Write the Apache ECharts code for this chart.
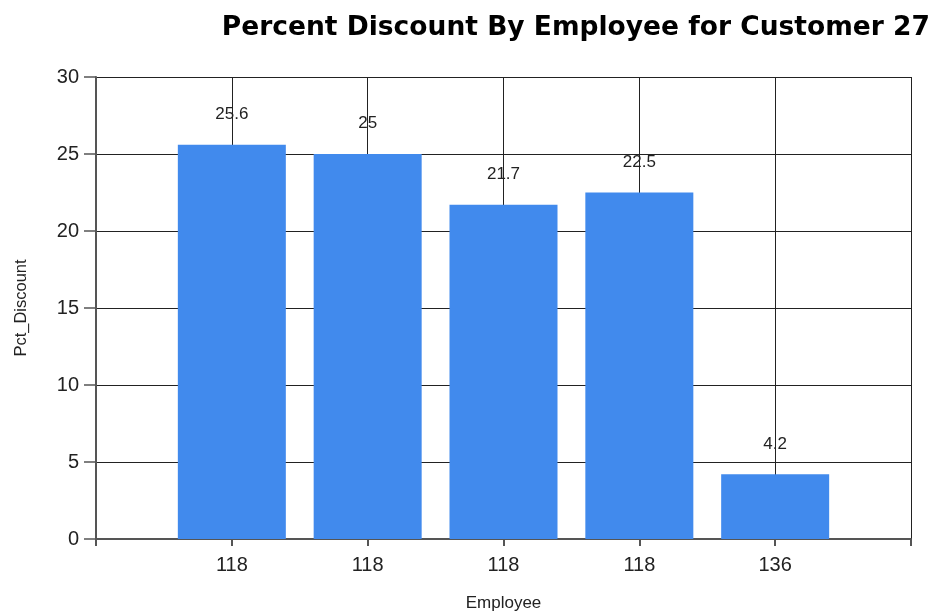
<!DOCTYPE html>
<html><head><meta charset="utf-8">
<script src="https://cdn.jsdelivr.net/npm/echarts@6/dist/echarts.min.js"></script>
<style>html,body{margin:0;padding:0;background:#fff}#c{width:935px;height:611px}</style>
</head><body><div id="c"></div>
<script>
const titleText = 'Percent Discount By Employee for Customer 27';
const employees = ['118', '118', '118', '118', '136'];
const pctDiscount = [25.6, 25, 21.7, 22.5, 4.2];
const yTicks = [0, 5, 10, 15, 20, 25, 30];

const chart = echarts.init(document.getElementById('c'));
chart.setOption({
  backgroundColor: '#fff',
  animation: false,
  title: {
    text: titleText, right: 0, top: 10,
    textStyle: { fontFamily: 'DejaVu Sans', fontWeight: 'bold', fontSize: 26.5, color: '#000' }
  },
  grid: { left: 96, right: 24, top: 77, bottom: 72, outerBoundsMode: 'none', containLabel: false },
  xAxis: {
    type: 'value', min: 0, max: employees.length + 1, interval: 1,
    name: 'Employee', nameLocation: 'middle', nameGap: 56,
    nameTextStyle: { fontFamily: 'Liberation Sans', fontSize: 17, color: '#222' },
    axisLine: { show: true, lineStyle: { color: '#555', width: 2 } },
    axisTick: { show: true, length: 7, lineStyle: { color: '#555', width: 2 } },
    axisLabel: {
      margin: 16, fontFamily: 'Liberation Sans', fontSize: 20, color: '#222',
      formatter: v => (v >= 1 && v <= employees.length) ? employees[v - 1] : ''
    },
    splitLine: { show: true, lineStyle: { color: '#222', width: 1 } }
  },
  yAxis: {
    type: 'value', min: yTicks[0], max: yTicks[yTicks.length - 1], interval: 5,
    name: 'Pct_Discount', nameLocation: 'middle', nameGap: 66,
    nameTextStyle: { fontFamily: 'Liberation Sans', fontSize: 16.5, color: '#222' },
    axisLine: { show: true, lineStyle: { color: '#555', width: 2 } },
    axisTick: { show: true, length: 12, lineStyle: { color: '#555', width: 1.5 } },
    axisLabel: { margin: 17, fontFamily: 'Liberation Sans', fontSize: 20, color: '#222' },
    splitLine: { show: true, lineStyle: { color: '#222', width: 1 } }
  },
  series: [{
    type: 'bar',
    data: pctDiscount.map((v, i) => [i + 1, v]),
    barWidth: 108,
    itemStyle: { color: '#418aed' },
    label: {
      show: true, position: 'top', distance: 22,
      fontFamily: 'Liberation Sans', fontSize: 17, color: '#222',
      formatter: p => String(p.value[1])
    }
  }]
});
</script></body></html>
